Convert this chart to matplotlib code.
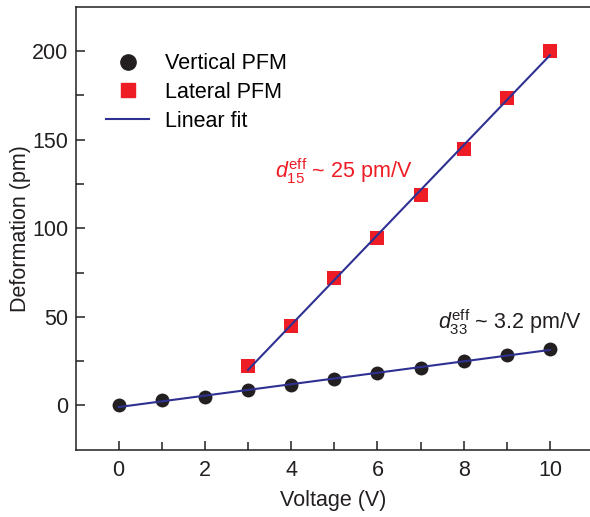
import numpy as np
import matplotlib
matplotlib.use("Agg")
import matplotlib.pyplot as plt
from matplotlib.lines import Line2D

# ---- data ----
voltage = [0, 1, 2, 3, 4, 5, 6, 7, 8, 9, 10]
vertical_pfm = [0, 3.0, 4.9, 8.5, 11.4, 14.8, 18.2, 21.0, 25.2, 28.5, 32.0]
lateral_voltage = [3, 4, 5, 6, 7, 8, 9, 10]
lateral_pfm = [22.3, 44.7, 72.2, 94.5, 118.5, 145.0, 173.5, 200.0]
x_ticks = [0, 2, 4, 6, 8, 10]
y_ticks = [0, 50, 100, 150, 200]
legend_labels = ["Vertical PFM", "Lateral PFM", "Linear fit"]

plt.rcParams['font.family'] = ['Liberation Sans', 'DejaVu Sans']
plt.rcParams['mathtext.fontset'] = 'custom'
plt.rcParams['mathtext.rm'] = 'Liberation Sans'
plt.rcParams['mathtext.it'] = 'Liberation Sans:italic'
plt.rcParams['mathtext.bf'] = 'Liberation Sans:bold'

FS = 15.5
BLACK = '#231F20'
RED = '#EE1C25'
BLUE = '#2E3192'

fig = plt.figure(figsize=(5.90, 5.17), dpi=100)
ax = fig.add_axes([0.128, 0.130, 0.872, 0.857])

# linear fits
pv = np.polyfit(voltage, vertical_pfm, 1)
pl = np.polyfit(lateral_voltage, lateral_pfm, 1)
xv = np.array([voltage[0], voltage[-1]])
xl = np.array([lateral_voltage[0], lateral_voltage[-1]])

ax.scatter(voltage, vertical_pfm, s=100, marker='o', color=BLACK, zorder=2, linewidths=0)
ax.scatter(lateral_voltage, lateral_pfm, s=90, marker='s', color=RED, zorder=2, linewidths=0)
ax.plot(xv, np.polyval(pv, xv), color=BLUE, lw=1.5, zorder=3)
ax.plot(xl, np.polyval(pl, xl), color=BLUE, lw=1.5, zorder=3)

ax.set_xlim(-1, 10.93)
ax.set_ylim(-25, 225)
ax.set_xticks(x_ticks)
ax.set_xticks(voltage, minor=True)
ax.set_yticks(y_ticks)
ax.set_yticks([25, 75, 125, 175], minor=True)

for s in ['left', 'bottom', 'top']:
    ax.spines[s].set_linewidth(1.1)
    ax.spines[s].set_color(BLACK)
ax.spines['right'].set_visible(False)

ax.tick_params(which='both', direction='in', width=1.1, color=BLACK,
               labelsize=FS, labelcolor=BLACK, top=False, right=False)
ax.tick_params(which='major', length=6.5)
ax.tick_params(which='minor', length=5.5)
ax.tick_params(axis='x', which='major', pad=7)
ax.tick_params(axis='y', which='major', pad=5)

ax.set_xlabel("Voltage (V)", fontsize=FS, color=BLACK, labelpad=7)
ax.set_ylabel("Deformation (pm)", fontsize=FS, color=BLACK, labelpad=1)

handles = [
    Line2D([], [], marker='o', ls='none', color=BLACK, markersize=11),
    Line2D([], [], marker='s', ls='none', color=RED, markersize=9.5),
    Line2D([], [], color=BLUE, lw=1.5),
]
ax.legend(handles, legend_labels, loc='upper left', bbox_to_anchor=(0.06, 0.895),
          frameon=False, fontsize=FS, handlelength=2.0, handletextpad=0.7,
          labelspacing=0.36, borderpad=0, borderaxespad=0)

ax.text(3.62, 128.5, r'$d_{15}^{\mathrm{eff}}$ ~ 25 pm/V', color=RED, fontsize=FS,
        ha='left', va='baseline')
ax.text(7.4, 43.4, r'$d_{33}^{\mathrm{eff}}$ ~ 3.2 pm/V', color=BLACK, fontsize=FS,
        ha='left', va='baseline')

fig.savefig("out.png", dpi=100)
